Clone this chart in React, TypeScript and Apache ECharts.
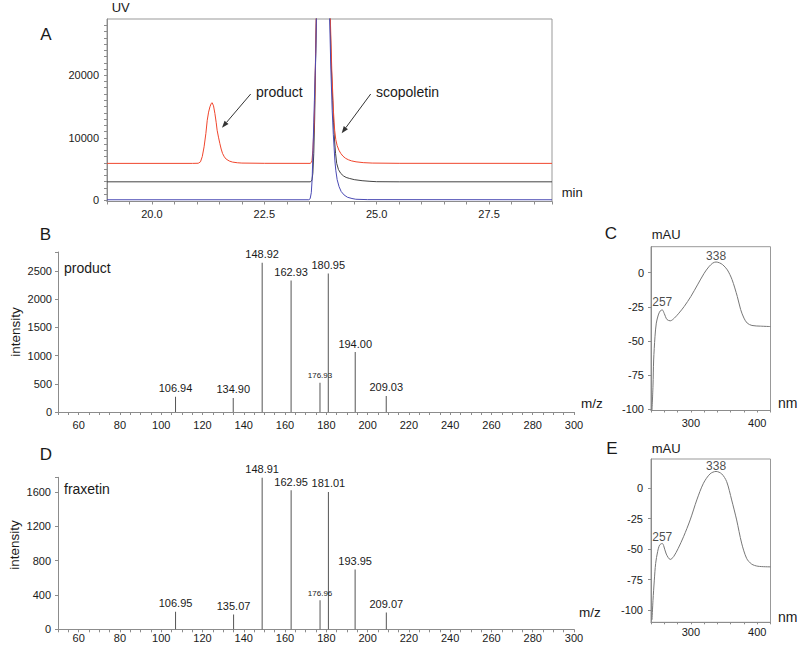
import React, { useEffect, useRef } from 'react';
import * as echarts from 'echarts';

const FONT = "'Liberation Sans', Arial, Helvetica, sans-serif";

// ---------- Panel A: UV chromatograms [time (min), signal] ----------
const uvRed: [number, number][] = [
  [19.0, 5900], [20.9, 5900], [21.03, 5920], [21.08, 6150], [21.12, 7000], [21.16, 8550],
  [21.2, 10700], [21.23, 12800], [21.26, 14100], [21.29, 14950], [21.32, 15500], [21.34, 15600],
  [21.37, 15100], [21.4, 13900], [21.43, 12400], [21.45, 11200], [21.48, 10100], [21.51, 9100],
  [21.54, 8200], [21.57, 7500], [21.61, 6950], [21.65, 6590], [21.72, 6280], [21.79, 6110],
  [21.9, 6000], [22.0, 5950], [22.5, 5910], [23.52, 5900], [23.545, 6050], [23.56, 6300],
  [23.58, 8000], [23.606, 11740], [23.625, 17000], [23.644, 25000], [23.66, 31000], [23.7, 90000],
  [23.8, 120000], [23.9, 80000], [23.965, 30000], [24.0, 21000], [24.04, 14000], [24.065, 11200],
  [24.09, 9700], [24.12, 8750], [24.16, 8000], [24.2, 7500], [24.25, 7050], [24.31, 6700],
  [24.37, 6480], [24.44, 6300], [24.54, 6150], [24.7, 6020], [24.9, 5950], [25.5, 5910], [28.9, 5900],
];
const uvBlack: [number, number][] = [
  [19.0, 2950], [23.52, 2950], [23.545, 3050], [23.56, 3300], [23.58, 4300], [23.6, 7500],
  [23.62, 13000], [23.64, 22000], [23.66, 30000], [23.7, 90000], [23.8, 120000], [23.9, 80000],
  [23.96, 30000], [23.99, 21500], [24.02, 16000], [24.04, 12500], [24.06, 9800], [24.085, 7500],
  [24.11, 5900], [24.15, 4900], [24.2, 4300], [24.26, 3900], [24.32, 3650], [24.39, 3500],
  [24.5, 3300], [24.675, 3130], [24.85, 3030], [25.0, 2970], [25.5, 2950], [28.9, 2950],
];
const uvBlue: [number, number][] = [
  [19.0, 80], [23.49, 80], [23.52, 250], [23.545, 1200], [23.565, 3500], [23.585, 8500],
  [23.6, 12500], [23.614, 16000], [23.63, 20000], [23.645, 23500], [23.66, 30000], [23.7, 90000],
  [23.8, 120000], [23.9, 80000], [23.95, 30000], [23.98, 21000], [24.01, 14400], [24.035, 10500],
  [24.052, 8500], [24.07, 6300], [24.09, 4800], [24.12, 3300], [24.163, 2170], [24.21, 1400],
  [24.274, 850], [24.35, 480], [24.45, 280], [24.535, 160], [24.8, 100], [28.9, 80],
];
const uvYLabels = [0, 10000, 20000];
const uvYTicks = Array.from({ length: 29 }, (_, i) => i * 1000);

// ---------- Panel B / D: MS spectra ----------
const msProductMz = [106.94, 134.9, 148.92, 162.93, 176.93, 180.95, 194.0, 209.03];
const msProductIntensity = [270, 250, 2650, 2335, 520, 2460, 1065, 285];
const msFraxetinMz = [106.95, 135.07, 148.91, 162.95, 176.96, 181.01, 193.95, 209.07];
const msFraxetinIntensity = [203, 173, 1765, 1618, 339, 1600, 697, 195];
const msSmallLabels = [176.93, 176.96];

// ---------- Panel C / E: UV spectra [nm, mAU] ----------
const specProduct: [number, number][] = [
  [241.5, -101], [243, -83], [244, -64], [246, -47], [248, -37], [251, -31], [254, -28],
  [257, -27.3], [260, -30], [264, -34.3], [269, -35.3], [275, -33.4], [282, -29.7], [290, -24.8],
  [300, -17.5], [310, -9], [320, -0.5], [327, 4.2], [333, 7], [338, 7.8], [343, 7.2], [348, 5.8],
  [355, 2], [362, -5], [370, -17.5], [375, -27], [380, -33.3], [385, -37], [392, -38.7],
  [405, -39.2], [420, -39.5],
];
const specFraxetin: [number, number][] = [
  [241.5, -108], [243, -92], [245, -75.4], [247, -61.7], [250, -52], [253, -46.6], [257, -45.3],
  [259, -47], [263, -54], [269, -58.4], [274, -56.2], [281, -49.3], [289, -39.8], [299, -26],
  [309, -9.6], [319, 4.1], [329, 11.8], [338, 13.8], [346.5, 11.8], [354, 5.4], [361.5, -9.6],
  [369, -26], [376.5, -45], [384, -57.5], [391.5, -62.2], [401, -64], [420, -64.5],
];
const specPeaks = [257, 338];
const specYLabels = [-100, -75, -50, -25, 0];

const AXIS = '#8c8c8c';
const TXT = '#1a1a1a';

function text(t: string, x: number, y: number, size: number, align = 'left', rotation = 0) {
  return {
    type: 'text', x, y, rotation, z: 10,
    style: {
      text: t, fill: TXT, font: `${size}px ${FONT}`,
      align, textAlign: align, verticalAlign: 'middle', textVerticalAlign: 'middle',
    },
  };
}

function arrow(x1: number, y1: number, x2: number, y2: number) {
  const dx = x2 - x1, dy = y2 - y1;
  const len = Math.sqrt(dx * dx + dy * dy);
  const ux = dx / len, uy = dy / len;
  const hl = 7, hw = 2.6;
  const bx = x2 - ux * hl, by = y2 - uy * hl;
  return [
    { type: 'line', z: 10, shape: { x1, y1, x2: bx, y2: by }, style: { stroke: '#333', lineWidth: 1 } },
    {
      type: 'polygon', z: 10,
      shape: { points: [[x2, y2], [bx - uy * hw, by + ux * hw], [bx + uy * hw, by - ux * hw]] },
      style: { fill: '#333' },
    },
  ];
}

function msBars(mz: number[], inten: number[], idx: number) {
  return {
    type: 'bar', xAxisIndex: idx, yAxisIndex: idx, barWidth: 1,
    itemStyle: { color: '#555' },
    data: mz.map((m, i) => ({
      value: [m, inten[i]],
      label: msSmallLabels.includes(m) ? { fontSize: 8 } : undefined,
    })),
    label: {
      show: true, position: 'top', distance: 3, color: TXT, fontSize: 11, fontFamily: FONT,
      formatter: (p: any) => p.value[0].toFixed(2),
    },
  };
}

function peakScatter(trace: [number, number][], idx: number, dists: number[]) {
  return {
    type: 'scatter', xAxisIndex: idx, yAxisIndex: idx, symbolSize: 1,
    itemStyle: { color: 'rgba(0,0,0,0)' },
    data: specPeaks.map((nm, i) => {
      const pt = trace.find((d) => d[0] === nm)!;
      return { value: pt, label: { distance: dists[i] } };
    }),
    label: {
      show: true, position: 'top', color: TXT, fontSize: 12, fontFamily: FONT,
      formatter: (p: any) => String(p.value[0]),
    },
  };
}

const lbl = (margin: number, extra: any = {}) => ({
  color: TXT, fontSize: 11, fontFamily: FONT, margin, ...extra,
});

function buildOption() {
  const line = { lineStyle: { color: AXIS, width: 1 }, onZero: false };
  const tick = (length: number) => ({ length, lineStyle: { color: AXIS } });
  const noSplit = { show: false };
  return {
    animation: false,
    textStyle: { fontFamily: FONT },
    grid: [
      { left: 107, top: 19, width: 445, height: 182.5, show: true, borderColor: '#999', borderWidth: 1 },
      { left: 58, top: 252, width: 516, height: 160 },
      { left: 651, top: 246.7, width: 119.5, height: 163.8, show: true, borderColor: '#999', borderWidth: 1 },
      { left: 58, top: 477.3, width: 516, height: 152 },
      { left: 651, top: 459, width: 119.5, height: 163.3, show: true, borderColor: '#999', borderWidth: 1 },
    ],
    xAxis: [
      {
        gridIndex: 0, type: 'value', min: 19, max: 28.9, interval: 0.5,
        axisLine: line, axisTick: tick(3), splitLine: noSplit,
        axisLabel: lbl(7, {
          formatter: (v: number) => (Math.abs(v / 2.5 - Math.round(v / 2.5)) < 1e-6 ? v.toFixed(1) : ''),
        }),
      },
      {
        gridIndex: 1, type: 'value', min: 50, max: 300, interval: 5,
        axisLine: line, axisTick: tick(3), splitLine: noSplit,
        axisLabel: lbl(7, { formatter: (v: number) => (v >= 60 && v % 20 === 0 ? String(v) : '') }),
      },
      {
        gridIndex: 2, type: 'value', min: 240, max: 420, interval: 20,
        axisLine: line, axisTick: tick(2), splitLine: noSplit,
        axisLabel: lbl(7, { formatter: (v: number) => (v === 300 || v === 400 ? String(v) : '') }),
      },
      {
        gridIndex: 3, type: 'value', min: 50, max: 300, interval: 5,
        axisLine: line, axisTick: tick(3), splitLine: noSplit,
        axisLabel: lbl(3, { formatter: (v: number) => (v >= 60 && v % 20 === 0 ? String(v) : '') }),
      },
      {
        gridIndex: 4, type: 'value', min: 240, max: 420, interval: 20,
        axisLine: line, axisTick: tick(2), splitLine: noSplit,
        axisLabel: lbl(4, { formatter: (v: number) => (v === 300 || v === 400 ? String(v) : '') }),
      },
    ],
    yAxis: [
      {
        gridIndex: 0, type: 'value', min: -200, max: 29000,
        axisLine: { ...line, show: true }, splitLine: noSplit,
        axisTick: { ...tick(3), customValues: uvYTicks },
        axisLabel: lbl(8, { customValues: uvYLabels, formatter: (v: number) => String(v) }),
      },
      {
        gridIndex: 1, type: 'value', min: 0, max: 2840, interval: 500,
        axisLine: { ...line, show: true }, axisTick: tick(3), splitLine: noSplit,
        axisLabel: lbl(6, { formatter: (v: number) => (v % 500 === 0 ? String(v) : '') }),
      },
      {
        gridIndex: 2, type: 'value', min: -101, max: 19,
        axisLine: { ...line, show: true }, splitLine: noSplit,
        axisTick: { ...tick(3), customValues: specYLabels },
        axisLabel: lbl(7, { customValues: specYLabels, formatter: (v: number) => String(v) }),
      },
      {
        gridIndex: 3, type: 'value', min: 0, max: 1770, interval: 400,
        axisLine: { ...line, show: true }, axisTick: tick(3), splitLine: noSplit,
        axisLabel: lbl(7, { formatter: (v: number) => (v % 400 === 0 ? String(v) : '') }),
      },
      {
        gridIndex: 4, type: 'value', min: -110, max: 24,
        axisLine: { ...line, show: true }, splitLine: noSplit,
        axisTick: { ...tick(3), customValues: specYLabels },
        axisLabel: lbl(8, { customValues: specYLabels, formatter: (v: number) => String(v) }),
      },
    ],
    series: [
      { type: 'line', xAxisIndex: 0, yAxisIndex: 0, data: uvBlack, symbol: 'none', showSymbol: false, lineStyle: { color: '#444', width: 1 } },
      { type: 'line', xAxisIndex: 0, yAxisIndex: 0, data: uvRed, symbol: 'none', showSymbol: false, lineStyle: { color: '#f0462d', width: 1 } },
      { type: 'line', xAxisIndex: 0, yAxisIndex: 0, data: uvBlue, symbol: 'none', showSymbol: false, lineStyle: { color: '#4a4ab4', width: 1 } },
      msBars(msProductMz, msProductIntensity, 1),
      msBars(msFraxetinMz, msFraxetinIntensity, 3),
      { type: 'line', xAxisIndex: 2, yAxisIndex: 2, data: specProduct, symbol: 'none', showSymbol: false, smooth: 0.3, lineStyle: { color: '#777', width: 1 } },
      { type: 'line', xAxisIndex: 4, yAxisIndex: 4, data: specFraxetin, symbol: 'none', showSymbol: false, smooth: 0.3, lineStyle: { color: '#777', width: 1 } },
      peakScatter(specProduct, 2, [1, -1]),
      peakScatter(specFraxetin, 4, [0, -1]),
    ],
    graphic: [
      text('A', 46, 34.5, 17, 'center'),
      text('B', 45.5, 234.5, 17, 'center'),
      text('C', 611, 233.5, 17, 'center'),
      text('D', 46, 454, 17, 'center'),
      text('E', 612, 448, 17, 'center'),
      text('UV', 111.7, 7, 13),
      text('min', 561.7, 192.7, 13),
      text('product', 256, 91.7, 14),
      text('scopoletin', 376, 91.7, 14),
      ...arrow(250.7, 94, 222, 127.7),
      ...arrow(370.7, 94, 341.7, 133.3),
      text('product', 64, 267.7, 14),
      text('fraxetin', 64, 489.3, 14),
      text('intensity', 15, 332, 13.5, 'center', Math.PI / 2),
      text('intensity', 14, 545, 13.5, 'center', Math.PI / 2),
      text('m/z', 581, 403.3, 13.5),
      text('m/z', 579, 612.3, 13.5),
      text('mAU', 651.7, 234, 13),
      text('mAU', 651.7, 448.3, 13),
      text('nm', 778, 402.7, 14),
      text('nm', 778, 616.7, 14),
    ],
  };
}

export default function App() {
  const ref = useRef<HTMLDivElement>(null);
  useEffect(() => {
    if (!ref.current) return;
    const chart = echarts.init(ref.current, undefined, { renderer: 'svg' });
    chart.setOption(buildOption() as any);
    return () => chart.dispose();
  }, []);
  return (
    <div
      ref={ref}
      style={{ position: 'absolute', left: 0, top: 0, width: 800, height: 648, background: '#fff' }}
    />
  );
}
